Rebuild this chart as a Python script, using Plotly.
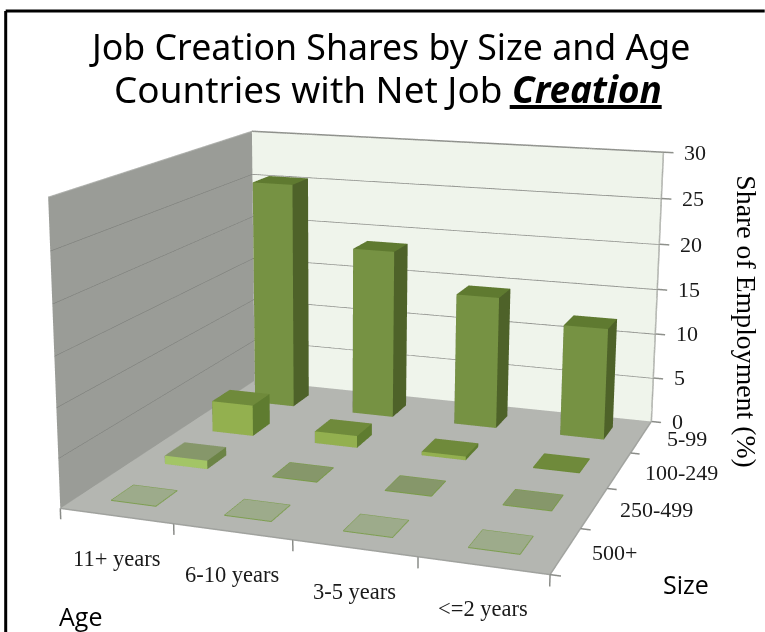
import plotly.graph_objects as go

# Page geometry: a long focal length needs a tall scene, so the graph div is larger than
# the window and is shifted so its vanishing geometry lands where the chart wants it.
W, H = 1000, 1454
VIEW_W, VIEW_H = 765, 632
SHIFT_X, SHIFT_Y = 166.7, 411

EYE = dict(x=1.126, y=-3.3, z=0.859)
CENTER = dict(x=-0.065, y=-0.095, z=0.025)
BOX = (0.965, 0.964, 0.608)

ages = ["11+ years", "6-10 years", "3-5 years", "<=2 years"]
sizes = ["500+", "250-499", "100-249", "5-99"]
values_500 = [0.05, 0.05, 0.05, 0.05]
values_250 = [0.9, 0.05, 0.05, 0.05]
values_100 = [3.4, 1.3, 0.4, 0.05]
values_5 = [25.5, 18.8, 14.6, 12.2]
rows = [values_500, values_250, values_100, values_5]
z_ticks = [0, 5, 10, 15, 20, 25, 30]

BAR_W = 0.4
front_colors = ["#a7c07f", "#a3c566", "#93b04f", "#769243"]
side_colors = ["#7f9a55", "#6c8446", "#5f7c30", "#4e6229"]
top_colors = ["#9dab8b", "#86976a", "#6f8a3b", "#5f7a30"]
edge_colors = ["#7d9e50", "#7a9c48", "#6b8a35", "#5f7a30"]

X_RANGE = [-0.5, 4.5]
Y_RANGE = [-0.5, 4.5]
Z_RANGE = [-3, 33]

FLAT = dict(ambient=1, diffuse=0, specular=0, roughness=1, fresnel=0)


def quad_mesh(xs, ys, zs, color):
    return go.Mesh3d(x=xs, y=ys, z=zs, i=[0, 0], j=[1, 2], k=[2, 3], color=color,
                     flatshading=True, hoverinfo="skip", showscale=False, lighting=FLAT)


def bar_mesh(cx, cy, h, front, side, top):
    x0, x1 = cx - BAR_W / 2, cx + BAR_W / 2
    y0, y1 = cy - BAR_W / 2, cy + BAR_W / 2
    xs = [x0, x1, x1, x0, x0, x1, x1, x0]
    ys = [y0, y0, y1, y1, y0, y0, y1, y1]
    zs = [0, 0, 0, 0, h, h, h, h]
    i = [0, 0, 1, 1, 4, 4, 0, 0, 3, 3, 2, 2]
    j = [1, 5, 2, 6, 5, 6, 3, 7, 2, 6, 1, 0]
    k = [5, 4, 6, 5, 6, 7, 7, 4, 6, 7, 0, 3]
    fc = [front, front, side, side, top, top, side, side, side, side, side, side]
    return go.Mesh3d(x=xs, y=ys, z=zs, i=i, j=j, k=k, facecolor=fc, flatshading=True,
                     hoverinfo="skip", showscale=False, lighting=FLAT)


def polyline(xs, ys, zs, color, width):
    return go.Scatter3d(x=xs, y=ys, z=zs, mode="lines", line=dict(color=color, width=width),
                        hoverinfo="skip", showlegend=False)


# Walls and floor of the box
traces = [
    quad_mesh([0, 0, 0, 0], [0, 4, 4, 0], [0, 0, 30, 30], "#9a9c97"),
    quad_mesh([0, 4, 4, 0], [4, 4, 4, 4], [0, 0, 30, 30], "#eff4eb"),
    quad_mesh([0, 4, 4, 0], [0, 0, 4, 4], [0, 0, 0, 0], "#b4b6b1"),
]

# Gridlines, axis edges and ticks
for z in z_ticks[1:]:
    left_color = "#b0b2ae" if z == 30 else "#7b7d79"
    traces.append(polyline([0, 0], [0, 4], [z, z], left_color, 2))
    traces.append(polyline([0, 4, 4.09], [4, 4, 4], [z, z, z], "#8e908b", 3))
traces.append(polyline([4, 4.09], [4, 4], [0, 0], "#8e908b", 3))
traces.append(polyline([4, 4], [4, 4], [0, 30], "#a9aba6", 3))
traces.append(polyline([0, 4], [0, 0], [0, 0], "#a0a29e", 3))
traces.append(polyline([4, 4], [0, 4], [0, 0], "#a0a29e", 3))
for k in range(5):
    traces.append(polyline([k, k], [0, 0], [0, -1.1], "#8a8c88", 3))
    traces.append(polyline([4, 4.08], [k, k], [0, 0], "#8a8c88", 3))

# Bars; the near-zero ones read as outlined tiles on the floor
for r_i, row in enumerate(rows):
    for c_i, v in enumerate(row):
        cx, cy = c_i + 0.5, r_i + 0.5
        traces.append(bar_mesh(cx, cy, v, front_colors[r_i], side_colors[r_i], top_colors[r_i]))
        if v < 0.2:
            d = BAR_W / 2
            traces.append(polyline([cx - d, cx + d, cx + d, cx - d, cx - d],
                                   [cy - d, cy - d, cy + d, cy + d, cy - d],
                                   [v, v, v, v, v], edge_colors[r_i], 2))

TICK_FONT = dict(family="Liberation Serif", color="#1a1a1a")
scene_notes = []
for z in z_ticks:
    scene_notes.append(dict(x=4, y=4, z=z, text=str(z), showarrow=False, xanchor="left",
                            xshift=19, font=dict(size=22, **TICK_FONT)))
for k, name in enumerate(sizes):
    scene_notes.append(dict(x=4, y=k + 0.5, z=0, text=name, showarrow=False, xanchor="left",
                            xshift=24, yshift=-2, font=dict(size=22, **TICK_FONT)))
for k, name in enumerate(ages):
    scene_notes.append(dict(x=k + 0.5, y=0, z=0, text=name.replace("<", "&lt;"), showarrow=False,
                            yshift=-43, font=dict(size=22.5, **TICK_FONT)))


def px_x(v):
    return (v + SHIFT_X) / W


def px_y(v):
    return 1 - (v + SHIFT_Y) / H


def page_note(px, py, text, size, family, color="#000000", angle=0):
    return dict(xref="paper", yref="paper", x=px_x(px), y=px_y(py), text=text, showarrow=False,
                xanchor="center", yanchor="middle", textangle=angle,
                font=dict(size=size, family=family, color=color))


TITLE_FONT = "Noto Sans"
notes = [
    page_note(390, 46, "Job Creation Shares by Size and Age", 35.7, TITLE_FONT),
    page_note(388, 89, "Countries with Net Job <b><i>Creation</i></b>", 36.9, TITLE_FONT),
    page_note(747, 322, "Share of Employment (%)", 27.8, "Liberation Serif", angle=90),
    page_note(686, 584, "Size", 25, "Open Sans"),
    page_note(81, 616, "Age", 25, "Open Sans"),
]

shapes = [
    dict(type="line", xref="paper", yref="paper", x0=px_x(6), x1=px_x(6), y0=px_y(11), y1=px_y(VIEW_H),
         line=dict(color="#000000", width=3)),
    dict(type="line", xref="paper", yref="paper", x0=px_x(6), x1=px_x(VIEW_W), y0=px_y(11), y1=px_y(11),
         line=dict(color="#000000", width=3)),
    dict(type="line", xref="paper", yref="paper", x0=px_x(510), x1=px_x(662), y0=px_y(107), y1=px_y(107),
         line=dict(color="#000000", width=4)),
]

hidden = dict(visible=False)
fig = go.Figure(traces)
fig.update_layout(
    width=W, height=H, autosize=False, margin=dict(l=0, r=0, t=0, b=0, pad=0),
    paper_bgcolor="#ffffff", showlegend=False, annotations=notes, shapes=shapes,
    scene=dict(
        domain=dict(x=[0, 1], y=[0, 1]),
        xaxis=dict(range=X_RANGE, **hidden), yaxis=dict(range=Y_RANGE, **hidden), zaxis=dict(range=Z_RANGE, **hidden),
        aspectmode="manual",
        aspectratio=dict(x=BOX[0] * 5 / 4, y=BOX[1] * 5 / 4, z=BOX[2] * 36 / 30),
        camera=dict(eye=EYE, center=CENTER, up=dict(x=0, y=0, z=1), projection=dict(type="perspective")),
        annotations=scene_notes, bgcolor="rgba(0,0,0,0)",
    ),
)
offset = (
    "var g=document.getElementsByClassName('plotly-graph-div')[0];"
    "g.style.position='absolute';g.style.left='-%gpx';g.style.top='-%gpx';"
    "document.body.style.overflow='hidden';" % (SHIFT_X, SHIFT_Y)
)
fig.write_html("out.html", post_script=offset)
